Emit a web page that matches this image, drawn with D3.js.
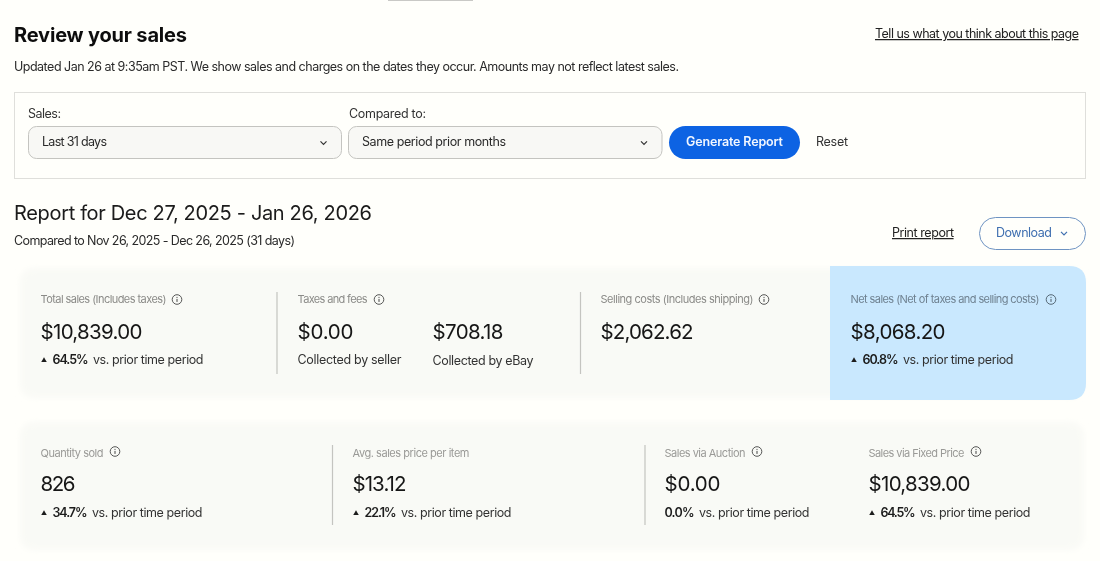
<!DOCTYPE html>
<head>
  <script src="https://cdnjs.cloudflare.com/ajax/libs/d3/7.8.5/d3.min.js"></script>
  <style>
    body { margin: 0; background: #fffffb; overflow: hidden }
    text { font-family: Inter, 'Open Sans', sans-serif; }
  </style>
</head>

<body>
  <div id="page"></div>

  <script>
    const width = 1100;
    const height = 561;

    // top row of the report
    const topLabels = ['Total sales (Includes taxes)', 'Taxes and fees', 'Selling costs (Includes shipping)', 'Net sales (Net of taxes and selling costs)'];
    const topValues = ['$10,839.00', '$0.00', '$2,062.62', '$8,068.20'];
    const topDeltas = ['64.5%', null, null, '60.8%'];

    // the second amount inside "Taxes and fees"
    const taxCaptions = ['Collected by seller', 'Collected by eBay'];
    const ebayFees = '$708.18';

    // bottom row of the report
    const bottomLabels = ['Quantity sold', 'Avg. sales price per item', 'Sales via Auction', 'Sales via Fixed Price'];
    const bottomValues = ['826', '$13.12', '$0.00', '$10,839.00'];
    const bottomDeltas = ['34.7%', '22.1%', '0.0%', '64.5%'];
    const bottomInfo = [true, false, true, true];

    const deltaSuffix = 'vs. prior time period';

    const svg = d3.select('#page').append('svg')
      .attr('width', width)
      .attr('height', height);

    const defs = svg.append('defs');
    defs.append('filter').attr('id', 'soft')
      .attr('x', '-5%').attr('y', '-10%').attr('width', '110%').attr('height', '120%')
      .append('feGaussianBlur').attr('stdDeviation', 3);
    defs.append('filter').attr('id', 'video')
      .attr('x', 0).attr('y', 0).attr('width', width).attr('height', height)
      .attr('filterUnits', 'userSpaceOnUse')
      .append('feGaussianBlur').attr('stdDeviation', 0.45);

    const bg = svg.append('g');
    const root = svg.append('g').attr('filter', 'url(#video)');

    // column positions for each row
    const topX = d3.scaleOrdinal().domain(topLabels).range([40.5, 297.5, 600.5, 850.5]);
    const bottomX = d3.scaleOrdinal().domain(bottomLabels).range([40.5, 352.5, 664.5, 868.5]);

    function label(g, x, y, str, opts = {}) {
      const t = g.append('text')
        .attr('x', x)
        .attr('y', y)
        .attr('font-size', opts.size || 13)
        .attr('font-weight', opts.weight || 400)
        .attr('fill', opts.fill || '#222')
        .attr('text-anchor', opts.anchor || 'start')
        .text(str);
      if (opts.underline) t.attr('text-decoration', 'underline');
      // squeeze to the width in the picture
      if (opts.w) {
        const len = t.node().getComputedTextLength();
        t.attr('letter-spacing', (opts.w - len) / (str.length - 1));
      }
      return t;
    }

    function chevron(g, x, y, color) {
      g.append('path')
        .attr('d', d3.line()([[x - 3, y - 1.7], [x, y + 1.3], [x + 3, y - 1.7]]))
        .attr('fill', 'none')
        .attr('stroke', color)
        .attr('stroke-width', 1.2);
    }

    function infoIcon(g, x, y, color) {
      g.append('circle').attr('cx', x).attr('cy', y).attr('r', 4.8)
        .attr('fill', 'none').attr('stroke', color).attr('stroke-width', 0.9);
      g.append('line').attr('x1', x).attr('x2', x).attr('y1', y - 0.6).attr('y2', y + 2.4)
        .attr('stroke', color).attr('stroke-width', 1);
      g.append('circle').attr('cx', x).attr('cy', y - 2.2).attr('r', 0.6).attr('fill', color);
    }

    function upTriangle(g, x, y, color) {
      g.append('path')
        .attr('d', d3.symbol().type(d3.symbolTriangle).size(13))
        .attr('transform', `translate(${x},${y})`)
        .attr('fill', color);
    }

    function delta(g, x, y, pct, hasArrow, pctW) {
      const startX = hasArrow ? x + 12 : x;
      if (hasArrow) upTriangle(g, x + 3.5, y - 3.5, '#1c1c1c');
      label(g, startX, y, pct, { size: 12.5, weight: 600, fill: '#1c1c1c', w: pctW });
      label(g, startX + pctW + 4.5, y, deltaSuffix, { size: 12.5, fill: '#333', w: 110.5 });
    }

    // soft background panels, the reference is a blurry video frame
    bg.append('rect').attr('x', 20).attr('y', 268).attr('width', 1064).attr('height', 130)
      .attr('rx', 14).attr('fill', '#f9faf6').attr('filter', 'url(#soft)');
    bg.append('rect').attr('x', 20).attr('y', 422).attr('width', 1064).attr('height', 128)
      .attr('rx', 14).attr('fill', '#f9faf6').attr('filter', 'url(#soft)');

    // top strip
    root.append('rect').attr('x', 388).attr('y', -1).attr('width', 85).attr('height', 2).attr('fill', '#c9c9c6');

    label(root, 14, 41.5, 'Review your sales', { size: 20, weight: 700, fill: '#111', w: 173 });
    label(root, 875, 38, 'Tell us what you think about this page', { size: 12.5, fill: '#222', underline: true, w: 204 });
    label(root, 14, 71, 'Updated Jan 26 at 9:35am PST. We show sales and charges on the dates they occur. Amounts may not reflect latest sales.', { size: 12.5, fill: '#2a2a2a', w: 665 });

    // filter box
    root.append('rect').attr('x', 14.5).attr('y', 92.5).attr('width', 1071).attr('height', 86)
      .attr('fill', 'none').attr('stroke', '#dfdfdb');
    label(root, 28, 118, 'Sales:', { size: 12.5, fill: '#333', w: 33 });
    label(root, 349, 118, 'Compared to:', { size: 12.5, fill: '#333', w: 77 });

    const selects = [[28.5, 313, 'Last 31 days', 65], [348.5, 313.5, 'Same period prior months', 144]];
    selects.forEach(([x, w, str, tw]) => {
      root.append('rect').attr('x', x).attr('y', 126.5).attr('width', w).attr('height', 32)
        .attr('rx', 8).attr('fill', '#f8f8f5').attr('stroke', '#c4c4c0');
      label(root, x + 13.5, 146, str, { size: 12.5, fill: '#2a2a2a', w: tw });
      chevron(root, x + w - 18, 143, '#333');
    });

    root.append('rect').attr('x', 669).attr('y', 126).attr('width', 131).attr('height', 33)
      .attr('rx', 16.5).attr('fill', '#0e63e3');
    label(root, 686, 146, 'Generate Report', { size: 12.5, weight: 600, fill: '#f2f7ff', w: 97 });
    label(root, 816, 146, 'Reset', { size: 12.5, fill: '#333', w: 32 });

    // report heading
    label(root, 14, 220, 'Report for Dec 27, 2025 - Jan 26, 2026', { size: 20, fill: '#1a1a1a', w: 358 });
    label(root, 14, 245, 'Compared to Nov 26, 2025 - Dec 26, 2025 (31 days)', { size: 12.5, fill: '#2a2a2a', w: 281 });
    label(root, 892, 237, 'Print report', { size: 12.5, fill: '#222', underline: true, w: 62 });
    root.append('rect').attr('x', 979.5).attr('y', 217.5).attr('width', 106).attr('height', 32)
      .attr('rx', 16).attr('fill', '#fffffb').attr('stroke', '#6e93c2');
    label(root, 996, 237, 'Download', { size: 12.5, fill: '#3f6fb0', w: 56 });
    chevron(root, 1064, 233.5, '#3f6fb0');

    // net sales highlight, rounded on the right only
    const nx = 830, ny = 266, nw = 256, nh = 134, nr = 17;
    root.append('path')
      .attr('d', `M${nx},${ny}H${nx + nw - nr}Q${nx + nw},${ny} ${nx + nw},${ny + nr}V${ny + nh - nr}Q${nx + nw},${ny + nh} ${nx + nw - nr},${ny + nh}H${nx}Z`)
      .attr('fill', '#c9e8fe');

    // dividers
    [[277, 292, 374], [580.5, 292, 374], [332.5, 445, 525], [645, 445, 525]].forEach(([x, y1, y2]) => {
      root.append('line').attr('x1', x).attr('x2', x).attr('y1', y1).attr('y2', y2)
        .attr('stroke', '#c4c4c0').attr('stroke-width', 1.2);
    });

    // top row cards
    const topLabelW = [126, 70, 153, 189];
    const topValueW = [102, 56, 93, 95];
    const topInfoX = [177, 379, 764, 1051];
    topLabels.forEach((d, i) => {
      const x = topX(d);
      label(root, x, 303, d, { size: 11, fill: i === 3 ? '#6f8291' : '#8b8b88', w: topLabelW[i] });
      label(root, x, 339, topValues[i], { size: 20.5, fill: '#161616', w: topValueW[i] });
      infoIcon(root, topInfoX[i], 299.5, i === 3 ? '#4a5a66' : '#444');
      if (topDeltas[i]) delta(root, x, 364, topDeltas[i], true, 36);
    });
    label(root, 432.5, 339, ebayFees, { size: 20.5, fill: '#161616', w: 71 });
    label(root, 297.5, 364, taxCaptions[0], { size: 12.5, fill: '#333', w: 104 });
    label(root, 432.5, 365, taxCaptions[1], { size: 12.5, fill: '#333', w: 101 });

    // bottom row cards
    const bottomLabelW = [63, 117, 81, 96];
    const bottomValueW = [35, 54, 56, 102];
    const bottomInfoX = [115, null, 757, 976];
    bottomLabels.forEach((d, i) => {
      const x = bottomX(d);
      label(root, x, 457, d, { size: 11, fill: '#9a9a97', w: bottomLabelW[i] });
      label(root, x, 491, bottomValues[i], { size: 20.5, fill: '#161616', w: bottomValueW[i] });
      if (bottomInfo[i]) infoIcon(root, bottomInfoX[i], 451.5, '#444');
      const pctW = bottomDeltas[i] === '0.0%' ? 30 : bottomDeltas[i] === '22.1%' ? 32 : 35;
      delta(root, x, 517, bottomDeltas[i], bottomDeltas[i] !== '0.0%', pctW);
    });
  </script>
</body>
